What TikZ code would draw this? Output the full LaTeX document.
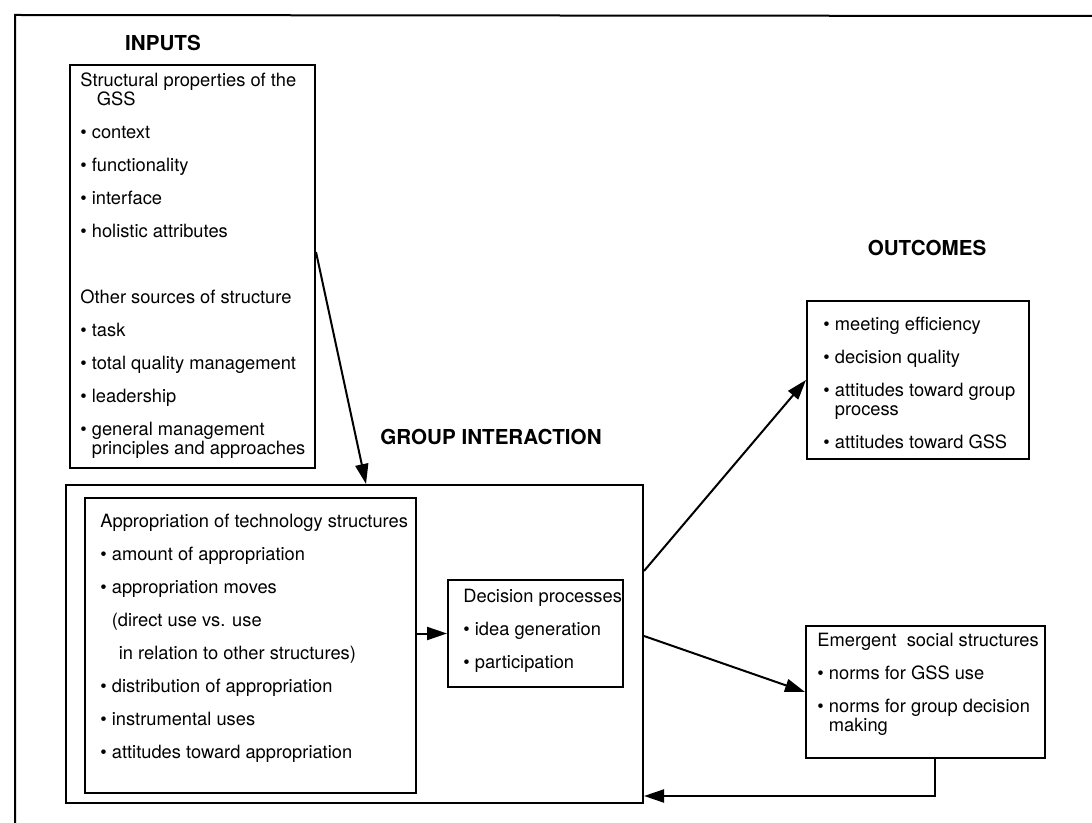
\documentclass[tikz,border=0pt]{standalone}
\usepackage{fontspec}
\setmainfont{TeX Gyre Heros}
\usetikzlibrary{arrows.meta,positioning,calc,fit}
\newcommand{\bul}{\textbullet\ }
\newcommand{\ind}{\phantom{\textbullet}\ }
\tikzset{
  box/.style={draw=black, line width=1pt, inner sep=0pt},
  txt/.style={align=left, inner sep=0pt, anchor=north west, font=\fontsize{9.15}{9.5}\selectfont},
  head/.style={font=\fontsize{10.3}{12}\selectfont\bfseries},
  arr/.style={-{Triangle[length=10pt,width=6.5pt]}, line width=1pt}
}
\begin{document}
\begin{tikzpicture}[x=0.5pt,y=-0.5pt]
\useasboundingbox (0,0) rectangle (1092,823);
\draw[line width=1pt] (15,823) -- (15,15) -- (1092,16);
\node[head] (inputshead) at (163,43) {INPUTS};
\node[head] (gihead) at (491,437) {GROUP INTERACTION};
\node[head] (outhead) at (927,248) {OUTCOMES};
\node[box, fit={(70,65) (315,468)}] (inputs) {};
\node[box, fit={(66,485) (643,803)}] (gi) {};
\node[box, fit={(85,498) (416,793)}] (approp) {};
\node[box, fit={(448,580) (623,687)}] (dec) {};
\node[box, fit={(807,301) (1029,459)}] (outc) {};
\node[box, fit={(806,626) (1045,758)}] (emerg) {};
\node[txt] (inputstxt) at (80,72) {Structural properties of the\\
  \ind\hspace{2.5pt}GSS\\[7pt]
  \bul context\\[7pt]
  \bul functionality\\[7pt]
  \bul interface\\[7pt]
  \bul holistic attributes\\[23.5pt]
  Other sources of structure\\[7pt]
  \bul task\\[7pt]
  \bul total quality management\\[7pt]
  \bul leadership\\[7pt]
  \bul general management\\
  \ind principles and approaches};
\node[txt] (approptxt) at (100,514) {Appropriation of technology structures\\[7pt]
  \bul amount of appropriation\\[7pt]
  \bul appropriation moves\\[7pt]
  \ind(direct use vs. use\\[7pt]
  \ind\hspace{3.5pt}in relation to other structures)\\[7pt]
  \bul distribution of appropriation\\[7pt]
  \bul instrumental uses\\[7pt]
  \bul attitudes toward appropriation};
\node[txt] (dectxt) at (463,589) {Decision processes\\[7pt]
  \bul idea generation\\[7pt]
  \bul participation};
\node[txt] (outctxt) at (823,317) {\bul meeting efficiency\\[7pt]
  \bul decision quality\\[7pt]
  \bul attitudes toward group\\
  \ind process\\[7pt]
  \bul attitudes toward GSS};
\node[txt] (emergtxt) at (817,633) {Emergent\ \ social structures\\[7pt]
  \bul norms for GSS use\\[7pt]
  \bul norms for group decision\\
  \ind making};
\draw[arr] ($(inputs.north east)+(0,188)$) -- ($(gi.north west)+(301,0)$);
\draw[arr] (approp.east |- dec.west) -- (dec.west);
\draw[arr] ($(gi.north east)+(0,87)$) -- (outc.west);
\draw[arr] ($(gi.north east)+(0,152)$) -- (emerg.west);
\draw[arr] ($(emerg.south)+(9,0)$) |- ($(gi.south east)+(0,-8)$);
\end{tikzpicture}
\end{document}
